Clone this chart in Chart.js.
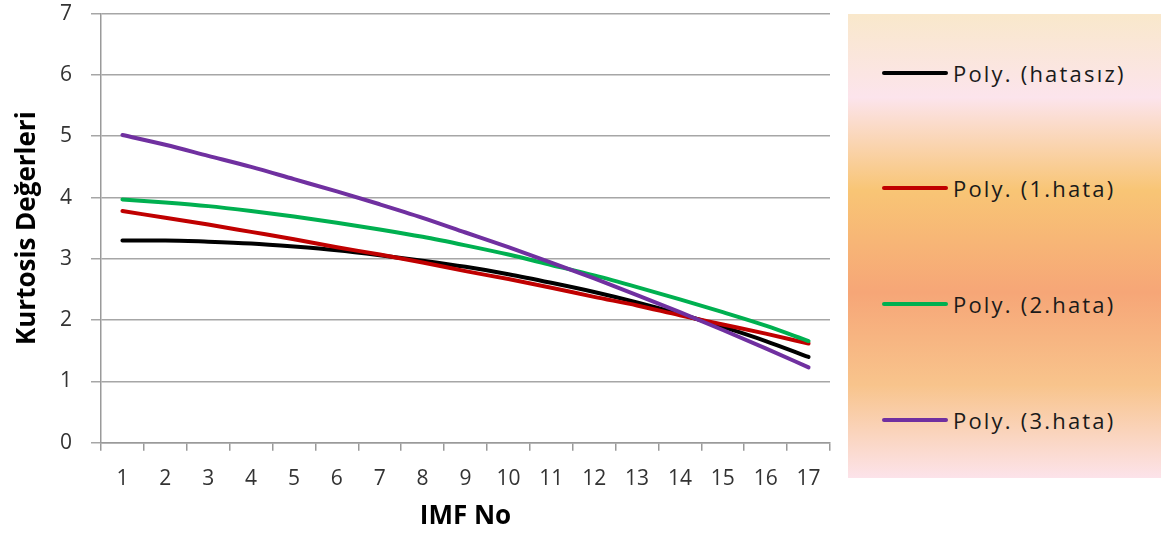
<!DOCTYPE html>
<html>
<head>
<meta charset="utf-8">
<script src="https://cdn.jsdelivr.net/npm/chart.js@4"></script>
<style>
  body { margin: 0; background: #fff; overflow: hidden; }
  #wrap { position: relative; width: 1161px; height: 536px; overflow: hidden; }
  #chart { position: absolute; left: 0; top: -18px; }
  #legend {
    position: absolute; left: 848px; top: 14px; width: 313px; height: 464px;
    background: linear-gradient(to bottom, #f9e8cb 0%, #fce4ec 18%, #f8c575 38%, #f6a677 60%, #f8c48c 80%, #fce3ea 100%);
    font-family: "Open Sans", sans-serif; font-size: 22px; letter-spacing: 2.2px; color: #1a1a1a;
  }
  .item { position: absolute; left: 34px; height: 28px; display: flex; align-items: center; white-space: nowrap; }
  .item span.sw { display: inline-block; width: 66px; height: 4px; border-radius: 2px; margin-right: 5px; }
</style>
</head>
<body>
<div id="wrap">
  <canvas id="chart" width="840" height="554"></canvas>
  <div id="legend"></div>
</div>
<script>
// IMF numaralari
var imfNo = ['1','2','3','4','5','6','7','8','9','10','11','12','13','14','15','16','17'];

// Kurtosis degerleri (trend egrileri)
var hatasiz = [3.30, 3.30, 3.28, 3.25, 3.20, 3.14, 3.06, 2.97, 2.87, 2.75, 2.61, 2.46, 2.29, 2.10, 1.89, 1.66, 1.40];
var hata1   = [3.78, 3.67, 3.56, 3.44, 3.32, 3.19, 3.07, 2.94, 2.80, 2.67, 2.53, 2.38, 2.24, 2.08, 1.93, 1.78, 1.62];
var hata2   = [3.97, 3.92, 3.86, 3.78, 3.69, 3.59, 3.48, 3.36, 3.22, 3.07, 2.90, 2.73, 2.54, 2.34, 2.13, 1.91, 1.66];
var hata3   = [5.02, 4.86, 4.68, 4.50, 4.30, 4.10, 3.89, 3.67, 3.43, 3.19, 2.94, 2.68, 2.41, 2.13, 1.84, 1.54, 1.23];

var yTicks = [0, 1, 2, 3, 4, 5, 6, 7];

var seriesNames  = ['Poly. (hatasız)', 'Poly. (1.hata)', 'Poly. (2.hata)', 'Poly. (3.hata)'];
var seriesColors = ['#000000', '#c00000', '#00b050', '#7030a0'];

function makeSet(i, data) {
    return {
        label: seriesNames[i],
        data: data,
        borderColor: seriesColors[i],
        backgroundColor: seriesColors[i],
        borderWidth: 4,
        pointRadius: 0,
        tension: 0.4,
        cubicInterpolationMode: 'monotone',
        borderCapStyle: 'round'
    };
}

var tickFont = { family: '"Open Sans", sans-serif', size: 21 };

const chart = new Chart(document.getElementById('chart').getContext('2d'), {
    type: 'line',
    data: {
        labels: imfNo,
        datasets: [makeSet(3, hata3), makeSet(2, hata2), makeSet(1, hata1), makeSet(0, hatasiz)]
    },
    options: {
        responsive: false,
        animation: false,
        layout: { padding: { top: -13, right: 10, left: 0, bottom: 0 } },
        plugins: { legend: { display: false }, tooltip: { enabled: false } },
        scales: {
            x: {
                offset: true,
                grid: { offset: true, drawOnChartArea: false, drawTicks: true, tickLength: 8, color: '#9a9a9a', lineWidth: 1.5 },
                border: { color: '#9a9a9a', width: 1.5 },
                ticks: { font: tickFont, color: '#333', padding: 16, maxRotation: 0, autoSkip: false },
                title: { display: true, text: 'IMF No', font: { family: '"Open Sans", sans-serif', size: 26, weight: 'bold', lineHeight: 1.0 }, color: '#000', padding: { top: -4, bottom: 6 } }
            },
            y: {
                min: 0, max: 7,
                afterBuildTicks: (s) => { s.ticks = yTicks.map(v => ({ value: v })); },
                grid: { color: '#a6a6a6', lineWidth: 1.5, tickLength: 10 },
                border: { color: '#9a9a9a', width: 1.5 },
                ticks: { font: tickFont, color: '#333', padding: 19 },
                title: { display: true, text: 'Kurtosis Değerleri', font: { family: '"Open Sans", sans-serif', size: 26, weight: 'bold' }, color: '#000', padding: { top: 12, bottom: 0 } },
                afterFit: (s) => { s.width = 101; }
            }
        }
    }
});

// Legend (HTML, gradient arka plan)
var legend = document.getElementById('legend');
var itemTops = [45, 160, 276, 392];
for (var i = 0; i < seriesNames.length; i++) {
    var d = document.createElement('div');
    d.className = 'item';
    d.style.top = itemTops[i] + 'px';
    d.innerHTML = '<span class="sw" style="background:' + seriesColors[i] + '"></span><span>' + seriesNames[i] + '</span>';
    legend.appendChild(d);
}
</script>
</body>
</html>
